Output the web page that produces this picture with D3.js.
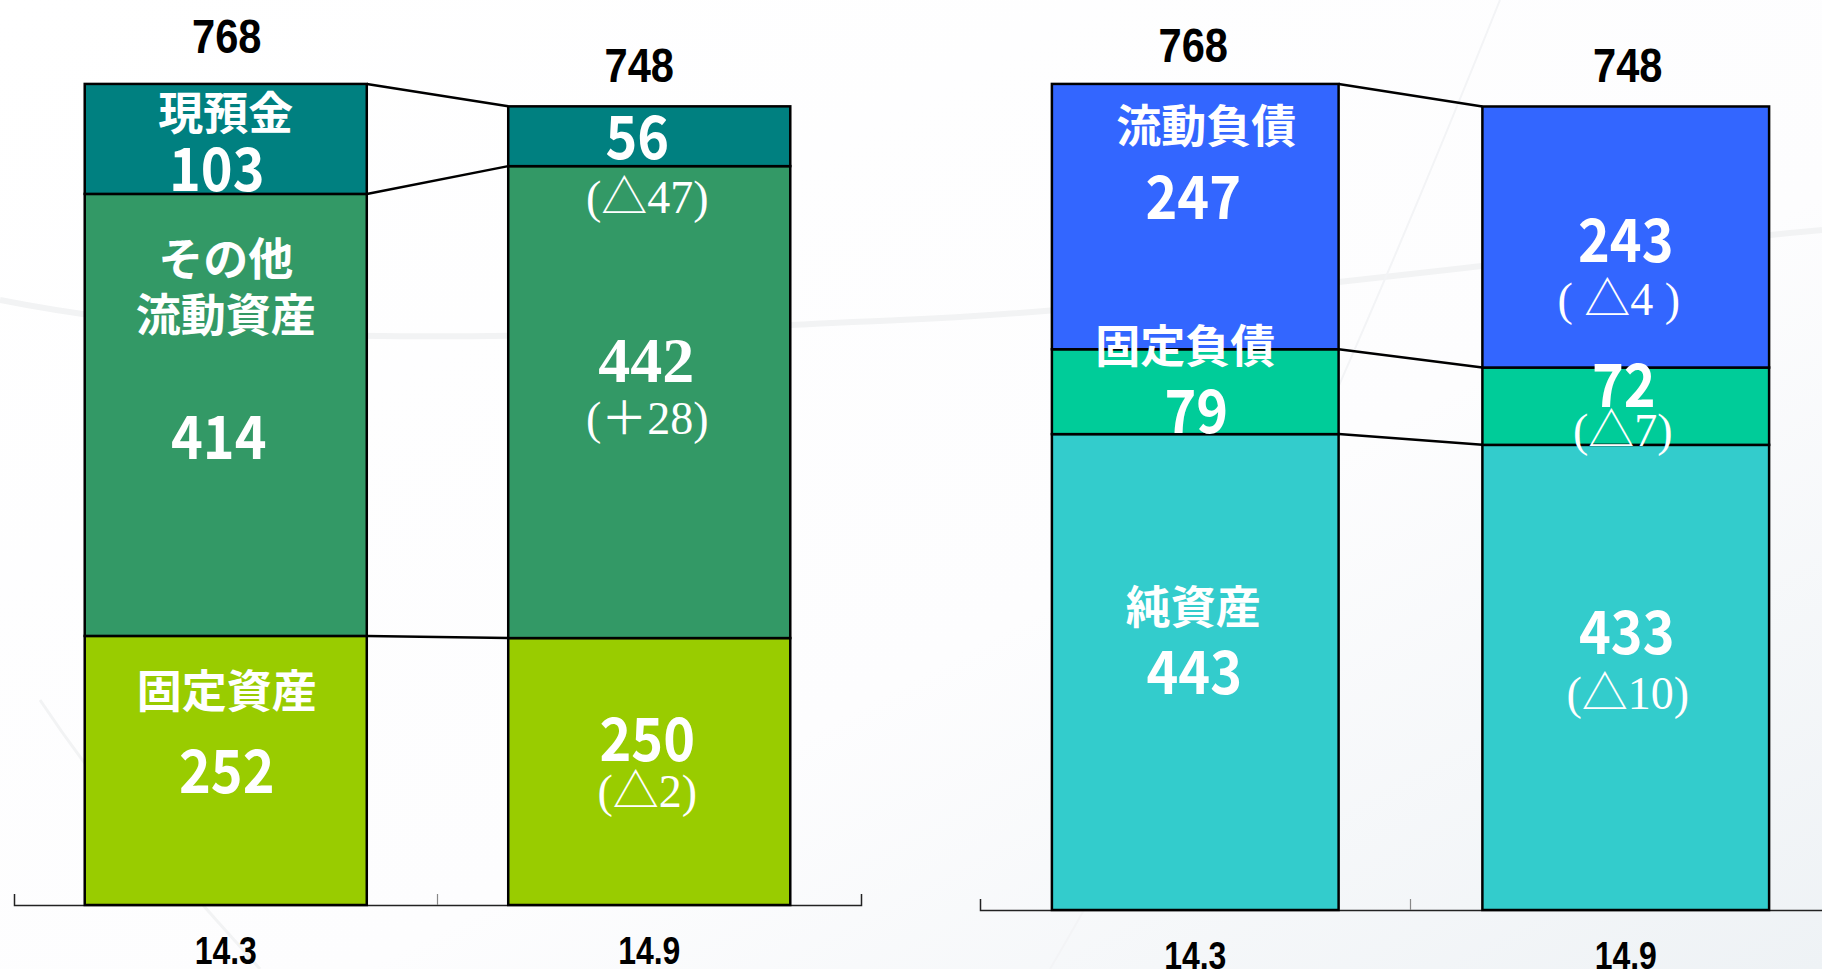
<!DOCTYPE html>
<html>
<head>
<meta charset="utf-8">
<script src="https://cdn.jsdelivr.net/npm/d3@7"></script>
<style>
  html, body { margin: 0; padding: 0; background: #fff; }
  svg { display: block; }
</style>
</head>
<body>
<svg id="chart" width="1822" height="969"></svg>
<script>
// --- data (億円) ---
const periods = ['14.3', '14.9'];
const totals = [768, 748];

// bottom → top
const assetNames = ['固定資産', 'その他\n流動資産', '現預金'];
const assets143 = [252, 414, 103];
const assets149 = [250, 442, 56];
const assetDeltas = ['(△2)', '(＋28)', '(△47)'];

const liabNames = ['純資産', '固定負債', '流動負債'];
const liab143 = [443, 79, 247];
const liab149 = [433, 72, 243];
const liabDeltas = ['(△10)', '(△7)', '( △4 )'];

const assetColors = ['#99cc00', '#339966', '#008080'];
const liabColors = ['#33cccc', '#00cc99', '#3366ff'];

const W = 1822, H = 969;
const svg = d3.select('#chart');

// faint background swooshes
const defs = svg.append('defs');
const bg = defs.append('linearGradient').attr('id', 'bg')
  .attr('x1', '0%').attr('y1', '0%').attr('x2', '100%').attr('y2', '100%');
bg.append('stop').attr('offset', '0%').attr('stop-color', '#ffffff');
bg.append('stop').attr('offset', '60%').attr('stop-color', '#fdfdfe');
bg.append('stop').attr('offset', '100%').attr('stop-color', '#eef2f5');
svg.append('rect').attr('width', W).attr('height', H).attr('fill', 'url(#bg)');
const swoosh = svg.append('g').attr('fill', 'none').attr('stroke', '#f2f3f4');
swoosh.append('path').attr('stroke-width', 6)
  .attr('d', 'M0,300 C300,360 650,330 900,320 C1150,310 1500,260 1822,230');
swoosh.append('path').attr('stroke-width', 3)
  .attr('d', 'M40,700 C120,820 200,900 260,969');
swoosh.append('path').attr('stroke-width', 2).attr('stroke', '#f3f4f6')
  .attr('d', 'M1050,969 C1150,800 1300,500 1500,0');

// label layout, relative to a segment's top (or bottom where noted)
const leftLayout = [
  { p: 0, s: 2, name: { dy: 27, dx: 0 }, value: { dy: 81, dx: -9 } },
  { p: 0, s: 1, name: { dy: 63, dx: 0, lh: 56 }, value: { dy: 239, dx: -7 } },
  { p: 0, s: 0, name: { dy: 53, dx: 1 }, value: { dy: 131, dx: 1 } },
  { p: 1, s: 2, value: { dy: 26, dx: -12 }, delta: { dy: 31, dx: -2, fromBottom: true } },
  { p: 1, s: 1, value: { dy: 194, dx: -3, serif: true }, delta: { dy: 252, dx: -2 } },
  { p: 1, s: 0, value: { dy: 97, dx: -2 }, delta: { dy: 153, dx: -2 } }
];
const rightLayout = [
  { p: 0, s: 2, name: { dy: 40, dx: 11 }, value: { dy: 109, dx: -2 } },
  { p: 0, s: 1, name: { dy: -6, dx: -10 }, value: { dy: 57, dx: 1 } },
  { p: 0, s: 0, name: { dy: 170, dx: -2 }, value: { dy: 234, dx: -1 } },
  { p: 1, s: 2, value: { dy: 129, dx: 0 }, delta: { dy: 193, dx: -7 } },
  { p: 1, s: 1, value: { dy: 13, dx: -2 }, delta: { dy: 63, dx: -3 } },
  { p: 1, s: 0, value: { dy: 183, dx: 1 }, delta: { dy: 249, dx: 2 } }
];

const sansJP = '"Noto Sans CJK JP", "Noto Sans", sans-serif';
const serif = '"Liberation Serif", "Noto Sans CJK JP", serif';
const narrow = '"Liberation Sans", Arial, sans-serif';

function drawPanel(opt) {
  const { x0, x1, yBase, names, series, deltas, colors, layout, totalDy } = opt;
  const x = d3.scaleBand().domain(periods).range([x0, x1])
    .paddingInner(0.334).paddingOuter(0.167);
  const y = d3.scaleLinear().domain([0, d3.max(totals)]).range([yBase, 85]);

  const rows = periods.map((p, i) => {
    const r = { period: p };
    names.forEach((n, j) => { r[n] = series[i][j]; });
    return r;
  });
  const stacked = d3.stack().keys(names)(rows);

  const g = svg.append('g');

  // axis: labels under band centres, ticks at band boundaries
  const axis = g.append('g').attr('transform', `translate(0,${yBase})`)
    .call(d3.axisBottom(x).tickSizeInner(0).tickSizeOuter(-11).tickPadding(31));
  axis.select('.domain').attr('stroke', '#222').attr('stroke-width', 1.5);
  axis.selectAll('.tick text')
    .attr('fill', '#000')
    .attr('font-family', narrow).attr('font-weight', 700).attr('font-size', 39)
    .attr('transform', 'scale(0.82,1)');
  axis.selectAll('.tick line').remove();
  g.append('line')
    .attr('x1', x0 + x.step()).attr('x2', x0 + x.step())
    .attr('y1', yBase).attr('y2', yBase - 11)
    .attr('stroke', '#888').attr('stroke-width', 1.2);

  // connector lines between bars at every segment boundary
  stacked.forEach(layer => {
    g.append('line')
      .attr('x1', x(periods[0]) + x.bandwidth()).attr('y1', y(layer[0][1]))
      .attr('x2', x(periods[1])).attr('y2', y(layer[1][1]))
      .attr('stroke', '#000').attr('stroke-width', 2.5);
  });

  // stacked bars
  g.append('g').selectAll('g')
    .data(stacked)
    .join('g')
      .attr('fill', (d, i) => colors[i])
    .selectAll('rect')
    .data(d => d)
    .join('rect')
      .attr('x', d => x(d.data.period))
      .attr('y', d => y(d[1]))
      .attr('width', x.bandwidth())
      .attr('height', d => y(d[0]) - y(d[1]))
      .attr('stroke', '#000').attr('stroke-width', 2.5);

  // totals above bars
  g.append('g').selectAll('text')
    .data(periods)
    .join('text')
      .attr('transform', (p, i) => `translate(${x(p) + x.bandwidth() / 2 + totalDy[i].dx},${y(totals[i]) - totalDy[i].dy}) scale(0.85,1)`)
      .attr('text-anchor', 'middle')
      .attr('font-family', narrow).attr('font-weight', 700).attr('font-size', 49)
      .attr('fill', '#000')
      .text((p, i) => totals[i]);

  // segment labels
  const lab = g.append('g').attr('fill', '#fff').attr('text-anchor', 'middle')
    .attr('dominant-baseline', 'central');
  layout.forEach(L => {
    const seg = stacked[L.s][L.p];
    const cx = x(periods[L.p]) + x.bandwidth() / 2;
    const top = y(seg[1]), bottom = y(seg[0]);
    if (L.name) {
      names[L.s].split('\n').forEach((line, k) => {
        lab.append('text')
          .attr('x', cx + L.name.dx).attr('y', top + L.name.dy + k * (L.name.lh || 0))
          .attr('font-family', sansJP).attr('font-weight', 700).attr('font-size', 45)
          .text(line);
      });
    }
    if (L.value) {
      const v = L.value;
      lab.append('text')
        .attr('transform', `translate(${cx + v.dx},${top + v.dy}) scale(${v.serif ? 1 : 0.9},1)`)
        .attr('font-family', v.serif ? serif : sansJP).attr('font-weight', 700)
        .attr('font-size', v.serif ? 64 : 60)
        .text(series[L.p][L.s]);
    }
    if (L.delta) {
      const dl = L.delta;
      lab.append('text')
        .attr('x', cx + dl.dx).attr('y', (dl.fromBottom ? bottom : top) + dl.dy)
        .attr('font-family', serif).attr('font-size', 46)
        .text(deltas[L.s]);
    }
  });
}

drawPanel({
  x0: 14, x1: 861, yBase: 905,
  names: assetNames, series: [assets143, assets149], deltas: assetDeltas,
  colors: assetColors, layout: leftLayout,
  totalDy: [{ dx: 1, dy: 32 }, { dx: -10, dy: 24 }]
});
drawPanel({
  x0: 980, x1: 1841, yBase: 910,
  names: liabNames, series: [liab143, liab149], deltas: liabDeltas,
  colors: liabColors, layout: rightLayout,
  totalDy: [{ dx: -2, dy: 23 }, { dx: 2, dy: 24 }]
});
</script>
</body>
</html>
